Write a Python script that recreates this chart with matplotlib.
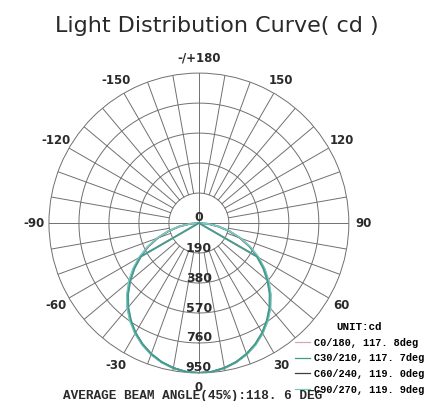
import matplotlib.pyplot as plt
import numpy as np

# gamma angles (deg) and intensity (cd) for each C-plane half, symmetric about 0
gamma = [0, 5, 10, 15, 20, 25, 30, 35, 40, 45, 50, 55, 60, 65, 70, 75, 80, 85, 90]
c0_180 = [950, 946, 932, 912, 882, 846, 803, 752, 697, 635, 568, 498, 425, 0, 0, 0, 0, 0, 0]
c30_210 = [950, 946, 932, 911, 882, 845, 802, 751, 696, 634, 567, 497, 424, 0, 0, 0, 0, 0, 0]
c60_240 = [950, 946, 933, 913, 885, 849, 806, 757, 702, 641, 575, 506, 432, 356, 278, 200, 126, 57, 0]
c90_270 = [950, 946, 934, 914, 886, 851, 809, 760, 706, 645, 580, 511, 438, 362, 283, 204, 129, 58, 0]
series_labels = ['C0/180, 117. 8deg', 'C30/210, 117. 7deg', 'C60/240, 119. 0deg', 'C90/270, 119. 9deg']
series_colors = ['#d8a8a8', '#3f9d90', '#3c3c4c', '#7ccac2']

ring_values = [0, 190, 380, 570, 760, 950]
angle_ticks = [0, 30, 60, 90, 120, 150, 180, -150, -120, -90, -60, -30]
angle_labels = ['0', '30', '60', '90', '120', '150', '-/+180', '-150', '-120', '-90', '-60', '-30']

grid_color = '#707070'
text_color = '#2a2a2a'
rmax = ring_values[-1]

fig = plt.figure(figsize=(4.41, 4.01), dpi=100)
ax = fig.add_axes([0.111, 0.0698, 0.680, 0.748], projection='polar')
ax.set_theta_zero_location('S')
ax.set_theta_direction(1)
ax.set_ylim(0, rmax)
ax.grid(False)
ax.set_xticks([])
ax.set_yticks([])
ax.spines['polar'].set_color(grid_color)
ax.spines['polar'].set_linewidth(0.7)

# rings and spokes
full = np.linspace(0, 2 * np.pi, 361)
for r in ring_values[1:-1]:
    ax.plot(full, np.full_like(full, r), color=grid_color, lw=0.7, zorder=1)
for t in range(0, 360, 10):
    inner = 0 if t % 90 == 0 else ring_values[1]
    ax.plot([np.deg2rad(t)] * 2, [inner, rmax], color=grid_color, lw=0.7, zorder=1)

# curves
g = np.array(gamma)
theta = np.deg2rad(np.concatenate([-g[::-1], g[1:]]))
order = [0, 2, 3, 1]
all_series = [c0_180, c30_210, c60_240, c90_270]
lines = [None] * 4
for i in order:
    v = np.array(all_series[i])
    r = np.concatenate([v[::-1], v[1:]])
    lines[i], = ax.plot(theta, r, color=series_colors[i], lw=1.3, zorder=3)

# ring value labels along the 0 direction
for r in ring_values:
    ax.annotate(str(r), xy=(0, r), xytext=(0, 5 if r else 6), textcoords='offset pixels',
                ha='center', va='center', fontsize=9, fontweight='bold', color=text_color, zorder=4)

# angle labels outside the circle
for t, lab in zip(angle_ticks, angle_labels):
    ax.text(np.deg2rad(t), rmax * 1.10, lab, ha='center', va='center',
            fontsize=8.5, fontweight='bold', color=text_color, clip_on=False)

fig.text(0.492, 1 - 26 / 401, 'Light Distribution Curve( cd )', ha='center', va='center',
         fontsize=16, family='DejaVu Sans', color='#2a2a2a')

leg = ax.legend(lines, series_labels, loc='upper left', bbox_to_anchor=(295 / 441, 1 - 322 / 401),
                bbox_transform=fig.transFigure, frameon=False, title='UNIT:cd',
                prop={'family': 'Liberation Mono', 'weight': 'bold', 'size': 7.4},
                handlelength=1.5, handletextpad=0.3, labelspacing=0.55, borderpad=0, borderaxespad=0)
leg.get_title().set_fontproperties({'family': 'Liberation Mono', 'weight': 'bold', 'size': 7.8})
for h in leg.legend_handles:
    h.set_linewidth(0.9)

fig.text(63 / 441, 1.5 / 401, 'AVERAGE BEAM ANGLE(45%):118. 6 DEG', ha='left', va='baseline',
         fontsize=9.2, family='Liberation Mono', fontweight='bold', color=text_color)

fig.savefig('out.png', dpi=100, facecolor='white')
